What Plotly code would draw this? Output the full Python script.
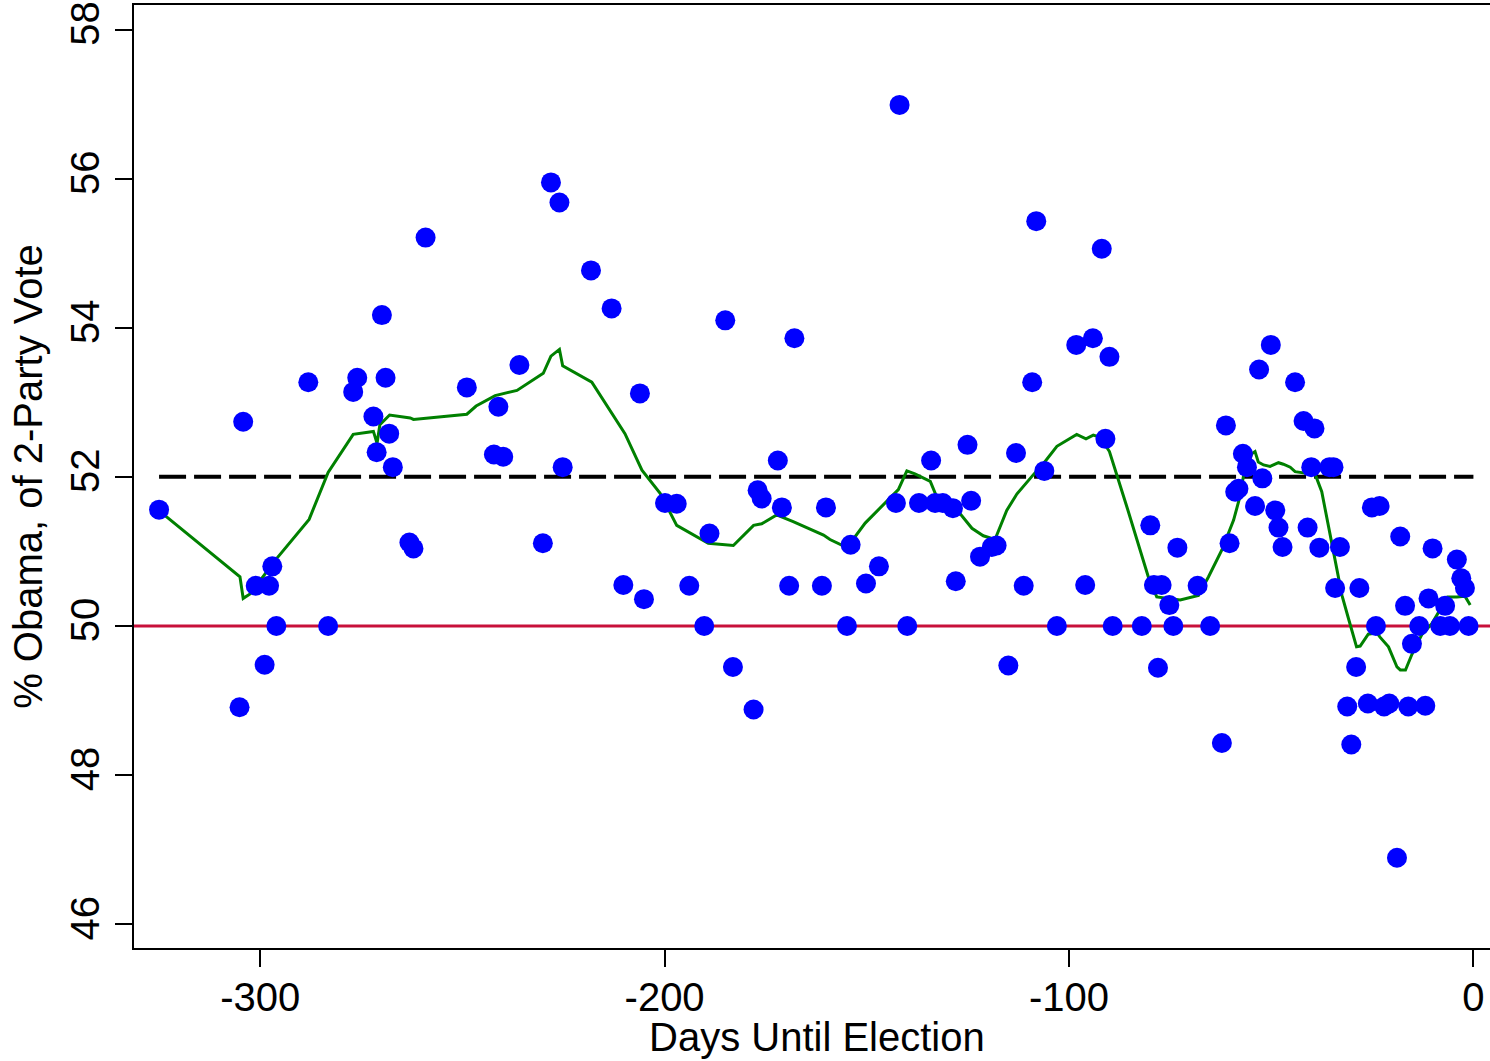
import plotly.graph_objects as go

# Individual polls: days before the election and Obama's share of the two-party vote
poll_days = [
    -325.0, -305.1, -304.2, -301.1, -298.9, -297.8, -297.0, -296.0, -288.1, -283.2,
    -277.0, -276.0, -272.0, -271.2, -269.9, -269.0, -268.1, -267.2, -263.1, -262.1,
    -259.1, -248.9, -242.2, -241.1, -239.9, -235.9, -230.1, -228.1, -226.0, -225.2,
    -218.2, -213.1, -210.2, -206.1, -205.1, -199.9, -197.0, -193.9, -190.2, -188.9,
    -185.0, -183.1, -178.0, -177.0, -176.0, -172.0, -171.0, -169.2, -167.9, -161.1,
    -160.1, -154.9, -154.0, -150.2, -147.0, -142.8, -141.9, -140.0, -137.1, -134.1,
    -133.1, -131.2, -128.7, -128.0, -125.1, -124.2, -122.0, -119.1, -117.9, -115.0,
    -113.1, -111.2, -109.1, -108.1, -106.1, -103.0, -98.2, -96.0, -94.1, -91.9,
    -91.0, -90.0, -89.2, -82.0, -79.9, -79.0, -78.0, -77.1, -75.2, -74.2,
    -73.2, -68.2, -65.1, -62.2, -61.2, -60.3, -58.9, -58.1, -57.0, -56.0,
    -54.0, -53.0, -52.2, -50.1, -49.0, -48.2, -47.2, -44.1, -42.0, -41.0,
    -40.1, -39.3, -38.1, -35.6, -34.6, -34.2, -33.0, -31.2, -30.2, -29.0,
    -28.2, -26.1, -25.1, -24.1, -23.2, -22.1, -20.8, -18.9, -18.1, -16.9,
    -16.1, -15.2, -13.4, -11.9, -11.1, -10.1, -8.2, -7.0, -5.8, -4.1,
    -3.0, -2.1, -1.2,
]
poll_share = [
    51.56, 48.91, 52.74, 50.54, 49.48, 50.54, 50.80, 50.00, 53.27, 50.00,
    53.14, 53.33, 52.81, 52.33, 54.17, 53.33, 52.58, 52.13, 51.12, 51.04,
    55.21, 53.20, 52.30, 52.94, 52.27, 53.50, 51.11, 55.95, 55.68, 52.13,
    54.77, 54.26, 50.55, 53.12, 50.36, 51.65, 51.64, 50.54, 50.00, 51.24,
    54.10, 49.45, 48.88, 51.82, 51.71, 52.22, 51.59, 50.54, 53.86, 50.54,
    51.59, 50.00, 51.09, 50.57, 50.80, 51.65, 56.99, 50.00, 51.65, 52.22,
    51.65, 51.65, 51.58, 50.60, 52.43, 51.68, 50.93, 51.06, 51.08, 49.47,
    52.32, 50.54, 53.27, 55.43, 52.08, 50.00, 53.77, 50.55, 53.86, 55.06,
    52.51, 53.61, 50.00, 50.00, 51.35, 50.55, 49.44, 50.55, 50.28, 50.00,
    51.05, 50.54, 50.00, 48.43, 52.69, 51.11, 51.80, 51.84, 52.31, 52.13,
    51.61, 53.44, 51.98, 53.77, 51.55, 51.32, 51.06, 53.27, 52.75, 51.32,
    52.13, 52.65, 51.05, 52.13, 52.13, 50.51, 51.06, 48.92, 48.41, 49.45,
    50.51, 48.96, 51.59, 50.00, 51.61, 48.92, 48.96, 46.89, 51.20, 50.27,
    48.92, 49.76, 50.00, 48.93, 50.37, 51.04, 50.00, 50.27, 50.00, 50.89,
    50.64, 50.51, 50.00,
]

# Smoothed trend through the polls
trend_days = [
    -325.1, -305.0, -304.2, -302.5, -296.3, -287.9, -283.2, -277.0, -272.0, -271.1,
    -270.4, -268.0, -262.9, -262.1, -248.9, -246.6, -241.9, -236.5, -230.0, -228.1,
    -226.0, -225.2, -218.0, -209.8, -205.6, -201.1, -197.0, -189.2, -183.0, -178.0,
    -176.0, -172.3, -168.2, -160.7, -159.1, -154.9, -150.4, -145.9, -142.2, -140.1,
    -138.1, -134.3, -132.7, -127.3, -124.0, -121.2, -118.3, -115.4, -112.9, -108.8,
    -106.3, -103.0, -98.1, -95.8, -94.0, -92.3, -90.0, -85.7, -80.4, -78.3,
    -75.0, -72.5, -68.0, -65.5, -62.2, -59.3, -57.7, -56.9, -54.8, -54.0,
    -53.2, -51.9, -50.3, -48.2, -47.0, -45.3, -44.1, -41.2, -39.1, -37.5,
    -35.9, -34.2, -32.5, -30.9, -28.9, -28.0, -26.0, -23.9, -23.1, -21.0,
    -18.9, -18.1, -16.8, -15.2, -12.7, -10.3, -8.7, -6.4, -4.1, -2.1,
    -0.8,
]
trend_share = [
    51.55, 50.66, 50.37, 50.43, 50.88, 51.43, 52.06, 52.57, 52.61, 52.45,
    52.70, 52.83, 52.79, 52.77, 52.84, 52.95, 53.09, 53.16, 53.39, 53.62,
    53.71, 53.49, 53.27, 52.58, 52.09, 51.78, 51.35, 51.11, 51.08, 51.35,
    51.37, 51.49, 51.40, 51.22, 51.16, 51.05, 51.38, 51.62, 51.83, 52.08,
    52.04, 51.94, 51.73, 51.53, 51.31, 51.21, 51.16, 51.55, 51.77, 52.03,
    52.18, 52.41, 52.57, 52.51, 52.56, 52.53, 52.34, 51.60, 50.66, 50.39,
    50.37, 50.35, 50.41, 50.66, 51.02, 51.42, 51.74, 52.00, 52.31, 52.34,
    52.20, 52.16, 52.14, 52.19, 52.17, 52.13, 52.07, 52.05, 52.03, 51.80,
    51.35, 50.84, 50.41, 50.10, 49.72, 49.73, 49.89, 49.91, 49.85, 49.72,
    49.45, 49.41, 49.41, 49.62, 49.89, 50.03, 50.17, 50.39, 50.39, 50.40,
    50.28,
]

# Reference levels
actual_result = 52.0
even_split = 50.0

x_ticks = [-300, -200, -100, 0]
x_tick_labels = ["-300", "-200", "-100", "0"]
y_ticks = [46, 48, 50, 52, 54, 56, 58]
y_tick_labels = ["46", "48", "50", "52", "54", "56", "58"]

FONT = "Liberation Sans, Arial, sans-serif"
FONT_SIZE = 40

fig = go.Figure()

# dashed line at the final result, spanning the polling period
fig.add_trace(go.Scatter(
    x=[min(poll_days), 0], y=[actual_result, actual_result],
    mode="lines",
    line=dict(color="black", width=4, dash="27px,8px"),
    hoverinfo="skip", showlegend=False,
))

# smoothed trend
fig.add_trace(go.Scatter(
    x=trend_days, y=trend_share,
    mode="lines",
    line=dict(color="#008000", width=3),
    showlegend=False,
))

# polls
fig.add_trace(go.Scatter(
    x=poll_days, y=poll_share,
    mode="markers",
    marker=dict(color="#0000FF", size=20, line=dict(width=0)),
    showlegend=False,
))

# 50% line across the full plot width
fig.add_shape(
    type="line", xref="paper", x0=0, x1=1, yref="y", y0=even_split, y1=even_split,
    line=dict(color="#C8103A", width=3), layer="below",
)

# x-axis title, set just under the tick labels
fig.add_annotation(
    text="Days Until Election",
    xref="paper", yref="paper", x=0.504, y=-0.094,
    xanchor="center", yanchor="middle", showarrow=False,
    font=dict(family=FONT, size=FONT_SIZE, color="black"),
)

fig.update_layout(
    width=1490, height=1061,
    margin=dict(l=134, r=0, t=5, b=113),
    paper_bgcolor="white", plot_bgcolor="white",
    font=dict(family=FONT, size=FONT_SIZE, color="black"),
    showlegend=False,
)

fig.update_xaxes(
    range=[-331.2, 4.1],
    tickmode="array", tickvals=x_ticks, ticktext=x_tick_labels,
    ticks="outside", ticklen=17, tickwidth=2, tickcolor="black",
    ticklabelstandoff=-4,
    showline=True, linecolor="black", linewidth=2, mirror=True,
    showgrid=False, zeroline=False,
    tickfont=dict(family=FONT, size=FONT_SIZE, color="black"),
)

fig.update_yaxes(
    range=[45.68, 58.33],
    tickmode="array", tickvals=y_ticks, ticktext=y_tick_labels,
    tickangle=-90,
    ticks="outside", ticklen=17, tickwidth=2, tickcolor="black",
    showline=True, linecolor="black", linewidth=2,
    showgrid=False, zeroline=False,
    tickfont=dict(family=FONT, size=FONT_SIZE, color="black"),
    title=dict(text="% Obama, of 2-Party Vote", font=dict(family=FONT, size=FONT_SIZE, color="black"), standoff=8),
)

fig.write_html("out.html")
